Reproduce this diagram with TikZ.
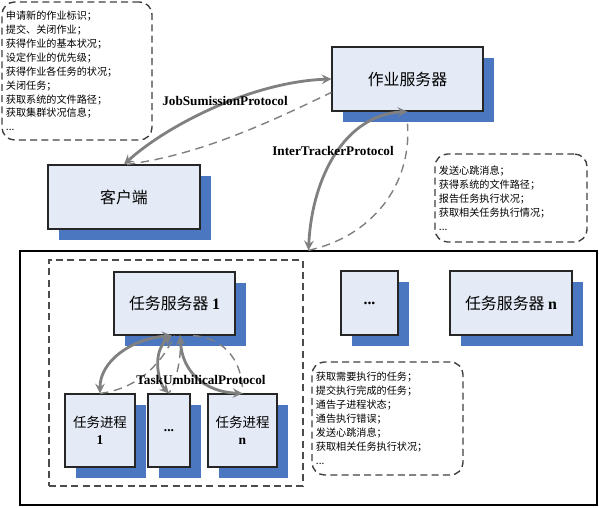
\documentclass[tikz,border=0pt]{standalone}
\usepackage{fontspec}
\setmainfont{Noto Sans CJK SC}
\newfontfamily\en{Liberation Serif}
\usetikzlibrary{shadows,calc}
\definecolor{boxfill}{RGB}{228,234,246}
\definecolor{shblue}{RGB}{74,119,192}
\definecolor{linkgray}{RGB}{128,128,128}
\tikzset{
  srvbox/.style={draw=black!85, line width=.8pt, fill=boxfill, align=center, inner sep=0pt,
    font=\fontsize{11.3}{13}\selectfont,
    drop shadow={shadow xshift=.28cm, shadow yshift=-.28cm, fill=shblue, opacity=1}},
  procbox/.style={srvbox, font=\fontsize{9.6}{12.5}\selectfont, minimum height=1.825cm},
  memo/.style={draw=black!75, line width=1pt, dash pattern=on 5pt off 3pt, rounded corners=9pt,
    align=left, inner xsep=.1cm, inner ysep=0pt, font=\fontsize{7.2}{9.9}\selectfont},
  callline/.style={draw=linkgray, line width=2pt, <->},
  replyline/.style={draw=linkgray, line width=1pt, dash pattern=on 6pt off 4pt},
  proto/.style={font=\en\bfseries\fontsize{9.4}{11}\selectfont}
}
\begin{document}
\begin{tikzpicture}[>=stealth, x=0.025cm, y=0.025cm]
\useasboundingbox (0,0) rectangle (599,507);
\node[draw, line width=.9pt, minimum width=14.425cm, minimum height=6.35cm] (trackers) at (308.5,129) {};
\node[draw=black!70, line width=.9pt, dash pattern=on 5pt off 3pt, minimum width=6.35cm, minimum height=5.65cm] (group) at (176,134) {};

\node[memo, text width=3.55cm, minimum height=3.45cm] (jobnote) at (77,436)
  {申请新的作业标识；\\提交、关闭作业；\\获得作业的基本状况；\\设定作业的优先级；\\获得作业各任务的状况；\\关闭任务；\\获取系统的文件路径；\\获取集群状况信息；\\...};
\node[memo, text width=3.6cm, minimum height=2.2cm] (trackernote) at (511,309)
  {发送心跳消息；\\获得系统的文件路径；\\报告任务执行状况；\\获取相关任务执行情况；\\...};
\node[memo, text width=3.575cm, minimum height=2.825cm] (tasknote) at (387.5,88.5)
  {获取需要执行的任务；\\提交执行完成的任务；\\通告子进程状态；\\通告执行错误；\\发送心跳消息；\\获取相关任务执行状况；\\...};

\node[srvbox, minimum width=3.775cm, minimum height=1.6cm] (jobserver) at (407.5,428) {作业服务器};
\node[srvbox, minimum width=3.8cm, minimum height=1.6cm] (client) at (124,310) {客户端};
\node[srvbox, minimum width=3.025cm, minimum height=1.575cm] (s1) at (174.5,203.5) {任务服务器 {\en\bfseries 1}};
\node[srvbox, minimum width=1.425cm, minimum height=1.6cm] (sdots) at (369.5,204) {\en\bfseries ...};
\node[srvbox, minimum width=3.05cm, minimum height=1.6cm] (sn) at (511,204) {任务服务器 {\en\bfseries n}};
\node[procbox, minimum width=1.75cm] (t1) at (100,76.5) {任务进程\\{\en\bfseries 1}};
\node[procbox, minimum width=1.05cm] (tdots) at (169,76.5) {\en\bfseries ...};
\node[procbox, minimum width=1.725cm] (tn) at (242.5,76.5) {任务进程\\{\en\bfseries n}};

\draw[callline] (client.north) .. controls (165,380) and (250,425) .. (jobserver.west);
\draw[replyline] (client.85) .. controls (200,352) and (270,385) .. (jobserver.190);
\draw[callline] (trackers.north) .. controls (312,330) and (345,392) .. (jobserver.south);
\draw[replyline] (trackers.north) .. controls (370,270) and (412,320) .. ($(jobserver.south)+(0,-12)$);
\draw[callline] (s1.265) .. controls (130,168) and (100,145) .. (t1.north);
\draw[replyline] (t1.north) .. controls (135,118) and (160,140) .. (s1.270);
\draw[callline] (s1.265) .. controls (152,155) and (158,125) .. (tdots.north);
\draw[replyline] (s1.280) .. controls (182,145) and (175,125) .. (tdots.north);
\draw[callline] (s1.280) .. controls (182,135) and (205,115) .. (tn.north);
\draw[replyline] (s1.300) .. controls (220,170) and (243,150) .. (tn.north);

\node[proto] (jsp) at (225,406) {JobSumissionProtocol};
\node[proto] (itp) at (333,356) {InterTrackerProtocol};
\node[proto] (tup) at (201,127) {TaskUmbilicalProtocol};
\end{tikzpicture}
\end{document}
